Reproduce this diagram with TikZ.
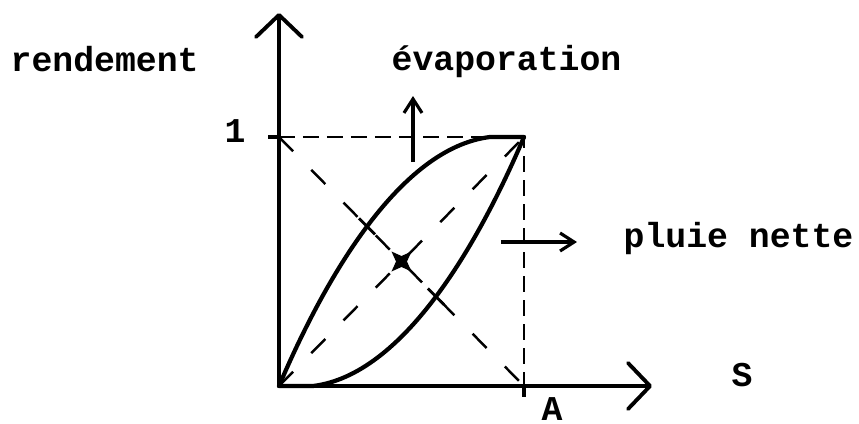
\documentclass[tikz,border=0pt]{standalone}
\usepackage{fontspec}
\setmonofont{Liberation Mono}
\usetikzlibrary{arrows.meta,intersections}

\begin{document}
\begin{tikzpicture}[
    axis/.style={line width=1.1pt, -{Straight Barb[length=0.22cm,width=0.46cm,round]}},
    curve/.style={line width=1.2pt, line cap=round, line join=round},
    guide/.style={line width=0.75pt, dash pattern=on 0.16cm off 0.08cm},
    diag/.style={line width=0.7pt, dash pattern=on 0.2cm off 0.26cm},
    flux/.style={line width=0.9pt, -{Straight Barb[length=0.14cm,width=0.18cm]}},
    txt/.style={font=\ttfamily\bfseries\fontsize{9.9}{12}\selectfont, inner sep=0pt, anchor=base west}
]
    \useasboundingbox (0,0) rectangle (8.59,4.23);

    % Points
    \coordinate (O) at (2.79,0.37);
    \coordinate (C) at (5.24,2.86);
    \coordinate (Y1) at (2.79,2.86);
    \coordinate (XA) at (5.24,0.37);
    \coordinate (M) at (4.015,1.615);

    % Square and diagonals
    \draw[guide] (Y1) -- (C) -- (XA);
    \draw[diag] (O) -- (C);
    \draw[diag, name path=anti] (Y1) -- (XA);

    % Axes
    \coordinate (xend) at (6.52,0.37);
    \coordinate (yend) at (2.79,4.10);
    \draw[axis] (O) -- (xend);
    \draw[axis] (O) -- (yend);
    \draw[line width=0.9pt] (Y1) -- ++(-0.11,0);
    \draw[line width=0.9pt] (XA) -- ++(0,-0.11);

    % Curves
    \draw[curve, name path=upper] (O) .. controls (3.25,1.45) and (4.0,2.75) .. (4.9,2.86) -- (C);
    \draw[curve, name path=lower] (O) -- (3.13,0.37) .. controls (4.03,0.48) and (4.78,1.78) .. (C);

    % Marks
    \path[name intersections={of=upper and anti, by=P1}];
    \path[name intersections={of=lower and anti, by=P2}];
    \draw[line width=0.8pt] (P1) ++(-0.08,0.081) -- ++(0.16,-0.162);
    \draw[line width=0.8pt] (P2) ++(-0.08,0.081) -- ++(0.16,-0.162);
    \fill[shift={(M)}] (-.1,-.1) -- (0,-.055) -- (.1,-.1) -- (.055,0)
        -- (.1,.1) -- (0,.055) -- (-.1,.1) -- (-.055,0) -- cycle;

    % Flux arrows
    \coordinate (evapfrom) at (4.13,2.61);
    \coordinate (evapto) at (4.13,3.27);
    \draw[flux] (evapfrom) -- (evapto);
    \coordinate (pluiefrom) at (5.01,1.81);
    \coordinate (pluieto) at (5.77,1.81);
    \draw[flux] (pluiefrom) -- (pluieto);

    % Labels
    \node[txt] (rend) at (0.10,3.52) {rendement};
    \node[txt] (evap) at (3.91,3.53) {évaporation};
    \node[txt] (pluie) at (6.23,1.76) {pluie nette};
    \node[txt, anchor=base] (s) at (7.42,0.37) {S};
    \node[txt, anchor=base] (a) at (5.52,0.03) {A};
    \node[txt, anchor=base] (un) at (2.35,2.81) {1};
\end{tikzpicture}
\end{document}
